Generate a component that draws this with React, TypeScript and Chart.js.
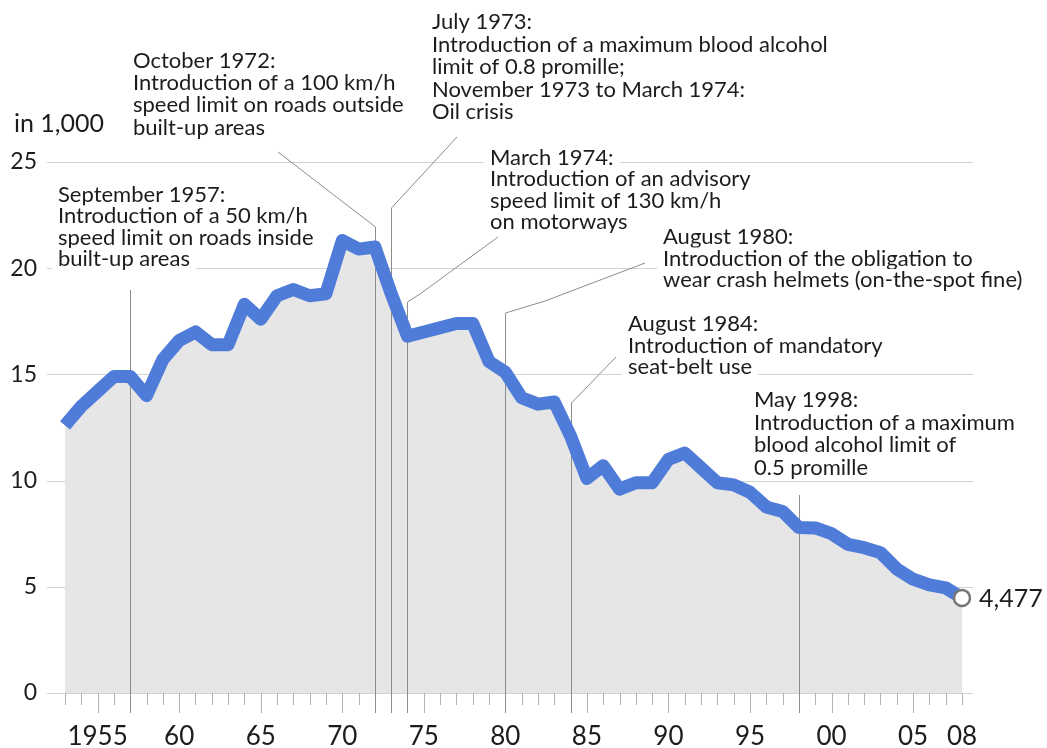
import { useEffect, useRef } from 'react';
import { Chart, registerables } from 'chart.js';

Chart.register(...registerables);

// ---- data ----
const years = [
  1953, 1954, 1955, 1956, 1957, 1958, 1959, 1960, 1961, 1962, 1963, 1964, 1965, 1966,
  1967, 1968, 1969, 1970, 1971, 1972, 1973, 1974, 1975, 1976, 1977, 1978, 1979, 1980,
  1981, 1982, 1983, 1984, 1985, 1986, 1987, 1988, 1989, 1990, 1991, 1992, 1993, 1994,
  1995, 1996, 1997, 1998, 1999, 2000, 2001, 2002, 2003, 2004, 2005, 2006, 2007, 2008,
];
const deathsThousands = [
  12.6, 13.5, 14.2, 14.9, 14.9, 14.0, 15.7, 16.6, 17.0, 16.4, 16.4, 18.3, 17.6, 18.7,
  19.0, 18.7, 18.8, 21.3, 20.9, 21.0, 18.8, 16.8, 17.0, 17.2, 17.4, 17.4, 15.6, 15.1,
  13.9, 13.6, 13.7, 12.1, 10.1, 10.7, 9.6, 9.9, 9.9, 11.0, 11.3, 10.6, 9.9, 9.8,
  9.45, 8.76, 8.55, 7.79, 7.77, 7.5, 7.0, 6.84, 6.61, 5.84, 5.36, 5.09, 4.95, 4.477,
];
const yTickValues = [0, 5, 10, 15, 20, 25];
const xTickYears = [1955, 1960, 1965, 1970, 1975, 1980, 1985, 1990, 1995, 2000, 2005, 2008];
const unitLabel = 'in 1,000';
const lastValueLabel = '4,477';

type Note = {
  year: number;
  lines: string[];
  x: number;
  y: number;
  step: number;
  lineTop: number;
  path: [number, number][];
};

const notes: Note[] = [
  {
    year: 1957,
    lines: ['September 1957:', 'Introduction of a 50 km/h', 'speed limit on roads inside', 'built-up areas'],
    x: 58, y: 195, step: 21.3, lineTop: 290, path: [],
  },
  {
    year: 1972,
    lines: ['October 1972:', 'Introduction of a 100 km/h', 'speed limit on roads outside', 'built-up areas'],
    x: 133, y: 61, step: 22.2, lineTop: 227, path: [[278, 152]],
  },
  {
    year: 1973,
    lines: ['July 1973:', 'Introduction of a maximum blood alcohol', 'limit of 0.8 promille;', 'November 1973 to March 1974:', 'Oil crisis'],
    x: 432, y: 22, step: 22.5, lineTop: 208, path: [[457, 137]],
  },
  {
    year: 1974,
    lines: ['March 1974:', 'Introduction of an advisory', 'speed limit of 130 km/h', 'on motorways'],
    x: 490, y: 158, step: 21.3, lineTop: 302, path: [[498, 237], [420, 294]],
  },
  {
    year: 1980,
    lines: ['August 1980:', 'Introduction of the obligation to', 'wear crash helmets (on-the-spot fine)'],
    x: 663, y: 237, step: 21.5, lineTop: 313, path: [[645, 263], [545, 301]],
  },
  {
    year: 1984,
    lines: ['August 1984:', 'Introduction of mandatory', 'seat-belt use'],
    x: 628, y: 324, step: 21.7, lineTop: 403, path: [[616, 357]],
  },
  {
    year: 1998,
    lines: ['May 1998:', 'Introduction of a maximum', 'blood alcohol limit of', '0.5 promille'],
    x: 754, y: 400, step: 22.6, lineTop: 495, path: [],
  },
];

const FONT = 'Lato, "DejaVu Sans", sans-serif';
const TEXT = '#1c1c1c';
const LINE_BLUE = '#4e7cd8';
const AREA_GRAY = '#e6e6e6';
const GRID = '#d2d2d2';
const LEADER = '#8c8c8c';
const TICK = '#b4b4b4';

const decorPlugin = {
  id: 'decor',
  beforeDatasetsDraw(chart: any) {
    const ctx = chart.ctx;
    const y = chart.scales.y;
    ctx.save();
    ctx.strokeStyle = GRID;
    ctx.lineWidth = 1;
    for (const v of yTickValues) {
      const py = Math.round(y.getPixelForValue(v)) + 0.5;
      ctx.beginPath();
      ctx.moveTo(47, py);
      ctx.lineTo(973, py);
      ctx.stroke();
    }
    ctx.restore();
  },
  beforeDatasetDraw(chart: any, args: any) {
    if (args.index !== 0) return;
    const ctx = chart.ctx;
    const x = chart.scales.x;
    const bottom = chart.chartArea.bottom;
    ctx.save();
    // tick marks
    ctx.strokeStyle = TICK;
    ctx.lineWidth = 1;
    for (const yr of years) {
      const px = Math.round(x.getPixelForValue(yr)) + 0.5;
      const len = yr % 5 === 0 ? 20 : 12;
      ctx.beginPath();
      ctx.moveTo(px, bottom);
      ctx.lineTo(px, bottom + len);
      ctx.stroke();
    }
    // leader lines
    ctx.strokeStyle = LEADER;
    ctx.lineWidth = 1;
    for (const n of notes) {
      const px = Math.round(x.getPixelForValue(n.year)) + 0.5;
      ctx.beginPath();
      if (n.path.length) {
        ctx.moveTo(n.path[0][0], n.path[0][1]);
        for (let i = 1; i < n.path.length; i++) ctx.lineTo(n.path[i][0], n.path[i][1]);
        ctx.lineTo(px, n.lineTop);
      } else {
        ctx.moveTo(px, n.lineTop);
      }
      ctx.lineTo(px, bottom + 20);
      ctx.stroke();
    }
    ctx.restore();
  },
  afterDraw(chart: any) {
    const ctx = chart.ctx;
    const x = chart.scales.x;
    const y = chart.scales.y;
    ctx.save();
    ctx.font = `22px ${FONT}`;
    ctx.textBaseline = 'middle';
    ctx.textAlign = 'left';
    const drawLine = (t: string, tx: number, ty: number) => {
      const w = ctx.measureText(t).width;
      ctx.fillStyle = '#ffffff';
      ctx.fillRect(tx - 6, ty - 11, w + 12, 22);
      ctx.fillStyle = TEXT;
      ctx.fillText(t, tx, ty);
    };
    for (const n of notes) {
      n.lines.forEach((t, i) => drawLine(t, n.x, n.y + i * n.step));
    }
    ctx.font = `25px ${FONT}`;
    ctx.fillStyle = TEXT;
    ctx.fillText(unitLabel, 14, 124);
    // last value label
    const lastIdx = years.length - 1;
    const lx = x.getPixelForValue(years[lastIdx]);
    const ly = y.getPixelForValue(deathsThousands[lastIdx]);
    ctx.font = `25px ${FONT}`;
    ctx.fillText(lastValueLabel, lx + 17, ly + 1);
    ctx.restore();
  },
};

export default function App() {
  const ref = useRef<HTMLCanvasElement | null>(null);
  useEffect(() => {
    document.body.style.margin = '0';
    const points = years.map((yr, i) => ({ x: yr, y: deathsThousands[i] }));
    const last = years.length - 1;
    const chart = new Chart(ref.current as HTMLCanvasElement, {
      type: 'line',
      data: {
        datasets: [
          {
            data: points,
            borderColor: LINE_BLUE,
            borderWidth: 13,
            borderJoinStyle: 'round',
            borderCapStyle: 'butt',
            fill: false,
            tension: 0,
            pointRadius: (c: any) => (c.dataIndex === last ? 8 : 0),
            pointBorderWidth: 2.5,
            pointBorderColor: '#777777',
            pointBackgroundColor: '#ffffff',
            pointHoverRadius: 0,
            clip: false as any,
          },
          {
            data: points,
            borderWidth: 0,
            borderColor: 'rgba(0,0,0,0)',
            backgroundColor: AREA_GRAY,
            fill: 'origin',
            tension: 0,
            pointRadius: 0,
            clip: false as any,
          },
        ],
      },
      options: {
        animation: false,
        responsive: false,
        events: [],
        layout: { padding: { left: 0, right: 85, top: 162, bottom: 0 } },
        plugins: {
          legend: { display: false },
          tooltip: { enabled: false },
          filler: { propagate: false },
        },
        scales: {
          x: {
            type: 'linear',
            min: 1953,
            max: 2008,
            grid: { display: false, drawTicks: false },
            border: { display: false },
            afterBuildTicks: (s: any) => {
              s.ticks = xTickYears.map((v) => ({ value: v }));
            },
            afterFit: (s: any) => {
              s.height = 55;
            },
            ticks: {
              autoSkip: false,
              maxRotation: 0,
              padding: 28,
              color: TEXT,
              font: { family: FONT, size: 26 },
              callback: (v: any) => (Number(v) === 1955 ? '1955' : String(Number(v) % 100).padStart(2, '0')),
            },
          },
          y: {
            type: 'linear',
            min: 0,
            max: 25,
            grid: { display: false, drawTicks: false },
            border: { display: false },
            afterBuildTicks: (s: any) => {
              s.ticks = yTickValues.map((v) => ({ value: v }));
            },
            afterFit: (s: any) => {
              s.width = 65;
            },
            ticks: {
              padding: 28,
              color: TEXT,
              font: { family: FONT, size: 23 },
              callback: (v: any) => String(v),
            },
          },
        },
      },
      plugins: [decorPlugin],
    });
    return () => chart.destroy();
  }, []);
  return (
    <div style={{ position: 'absolute', left: 0, top: 0, width: 1047, height: 748 }}>
      <canvas ref={ref} width={1047} height={748} style={{ width: 1047, height: 748, display: 'block' }} />
    </div>
  );
}
